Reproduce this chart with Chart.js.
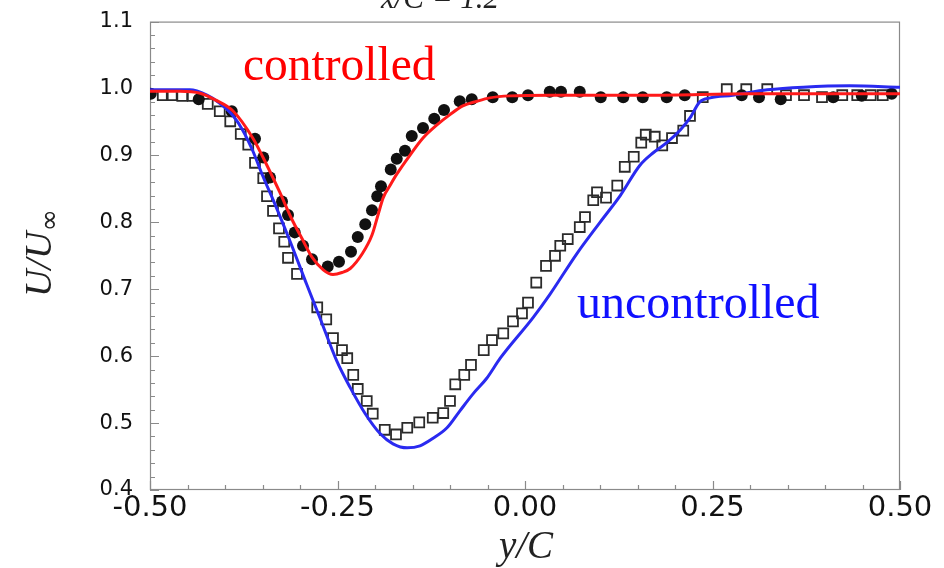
<!DOCTYPE html>
<html><head><meta charset="utf-8">
<script src="https://cdn.jsdelivr.net/npm/chart.js@4.4.1/dist/chart.umd.min.js"></script>
<style>html,body{margin:0;padding:0;background:#fff}</style>
</head><body>
<canvas id="c" width="944" height="568" style="width:944px;height:568px;display:block"></canvas>
<script>
// ---- data ----
const xTicks = [-0.50, -0.25, 0.00, 0.25, 0.50];
const yTicks = [0.4, 0.5, 0.6, 0.7, 0.8, 0.9, 1.0, 1.1];

const controlledExpX = [-0.499,-0.435,-0.391,-0.360,-0.349,-0.340,-0.324,-0.316,-0.307,-0.296,-0.284,-0.263,-0.248,-0.232,-0.223,-0.213,-0.204,-0.197,-0.192,-0.179,-0.171,-0.160,-0.151,-0.136,-0.121,-0.108,-0.087,-0.071,-0.043,-0.017,0.004,0.033,0.048,0.073,0.101,0.131,0.157,0.189,0.213,0.289,0.312,0.341,0.411,0.449,0.489];
const controlledExpY = [0.992,0.984,0.966,0.925,0.897,0.867,0.831,0.811,0.785,0.765,0.745,0.734,0.741,0.756,0.778,0.797,0.818,0.839,0.854,0.879,0.895,0.907,0.929,0.941,0.955,0.968,0.981,0.984,0.987,0.987,0.990,0.995,0.995,0.995,0.987,0.987,0.987,0.987,0.990,0.990,0.987,0.984,0.987,0.989,0.992];

const uncontrolledExpX = [-0.483,-0.471,-0.457,-0.443,-0.423,-0.407,-0.393,-0.379,-0.369,-0.360,-0.349,-0.344,-0.336,-0.328,-0.321,-0.316,-0.304,-0.277,-0.265,-0.256,-0.244,-0.237,-0.229,-0.223,-0.211,-0.203,-0.187,-0.172,-0.157,-0.141,-0.123,-0.109,-0.100,-0.093,-0.081,-0.072,-0.055,-0.044,-0.029,-0.016,-0.004,0.004,0.015,0.028,0.040,0.047,0.057,0.073,0.080,0.091,0.096,0.108,0.123,0.133,0.145,0.155,0.161,0.173,0.183,0.196,0.211,0.220,0.237,0.269,0.295,0.323,0.348,0.372,0.396,0.423,0.443,0.461,0.477];
const uncontrolledExpY = [0.990,0.990,0.989,0.989,0.977,0.966,0.951,0.932,0.916,0.889,0.866,0.839,0.817,0.791,0.771,0.747,0.723,0.673,0.655,0.627,0.609,0.597,0.572,0.551,0.533,0.514,0.490,0.483,0.493,0.501,0.508,0.515,0.533,0.558,0.572,0.587,0.609,0.624,0.634,0.652,0.664,0.680,0.710,0.735,0.750,0.765,0.775,0.793,0.808,0.833,0.845,0.837,0.855,0.883,0.898,0.919,0.931,0.928,0.915,0.926,0.937,0.959,0.987,0.999,0.999,0.999,0.990,0.990,0.987,0.990,0.990,0.990,0.990];

const controlledSimX = [-0.5,-0.46,-0.433,-0.413,-0.389,-0.363,-0.344,-0.327,-0.311,-0.297,-0.284,-0.269,-0.256,-0.244,-0.233,-0.217,-0.204,-0.196,-0.189,-0.18,-0.171,-0.153,-0.136,-0.117,-0.1,-0.083,-0.064,-0.047,-0.02,0.033,0.167,0.3,0.5];
const controlledSimY = [0.996,0.996,0.993,0.983,0.966,0.926,0.885,0.845,0.805,0.775,0.748,0.729,0.722,0.725,0.731,0.753,0.781,0.811,0.837,0.855,0.872,0.901,0.926,0.946,0.961,0.974,0.981,0.986,0.989,0.990,0.990,0.992,0.992];

const uncontrolledSimX = [-0.5,-0.447,-0.424,-0.407,-0.389,-0.376,-0.363,-0.351,-0.333,-0.313,-0.291,-0.273,-0.251,-0.233,-0.213,-0.193,-0.176,-0.157,-0.14,-0.123,-0.104,-0.087,-0.069,-0.051,-0.033,0.011,0.033,0.069,0.1,0.127,0.153,0.171,0.189,0.207,0.22,0.233,0.247,0.277,0.323,0.371,0.433,0.5];
const uncontrolledSimY = [0.998,0.998,0.990,0.978,0.959,0.937,0.907,0.873,0.826,0.771,0.707,0.656,0.593,0.553,0.514,0.484,0.469,0.463,0.466,0.477,0.493,0.518,0.544,0.567,0.597,0.658,0.692,0.753,0.800,0.840,0.885,0.904,0.919,0.938,0.956,0.980,0.986,0.990,0.998,1.002,1.004,1.002];

const zip = (xs, ys) => xs.map((x, i) => ({x, y: ys[i]}));

const TICK_FONT = '"DejaVu Sans", sans-serif';

const isMajor = (v, step) => Math.abs(v / step - Math.round(v / step)) < 1e-6;

const framePlugin = {
  id: 'frame',
  beforeDatasetsDraw(chart) {
    const {ctx, chartArea: a, scales} = chart;
    ctx.save();
    ctx.strokeStyle = '#8a8a8a';
    ctx.lineWidth = 1.2;
    ctx.strokeRect(a.left + 0.5, a.top + 0.5, a.right - a.left - 1, a.bottom - a.top - 1);
    ctx.beginPath();
    scales.x.ticks.forEach(t => {
      const px = Math.round(scales.x.getPixelForValue(t.value)) + 0.5;
      const len = isMajor(t.value, 0.25) ? 9 : 5;
      ctx.moveTo(px, a.bottom); ctx.lineTo(px, a.bottom - len);
    });
    scales.y.ticks.forEach(t => {
      const py = Math.round(scales.y.getPixelForValue(t.value)) + 0.5;
      const len = isMajor(t.value, 0.1) ? 9 : 5;
      ctx.moveTo(a.left, py); ctx.lineTo(a.left + len, py);
    });
    ctx.stroke();
    ctx.restore();
  },
  afterDraw(chart) {
    const {ctx} = chart;
    ctx.save();
    // annotations
    ctx.textBaseline = 'alphabetic';
    ctx.font = '47.5px "Liberation Serif", "Times New Roman", serif';
    ctx.fillStyle = '#ff0000';
    ctx.textAlign = 'left';
    ctx.fillText('controlled', 243, 80);
    ctx.font = '48px "Liberation Serif", "Times New Roman", serif';
    ctx.fillStyle = '#1010ff';
    ctx.fillText('uncontrolled', 577, 318);

    // x axis title: y/C
    ctx.fillStyle = '#222';
    ctx.font = 'italic 39px "Liberation Serif", serif';
    ctx.textAlign = 'center';
    ctx.fillText('y/C', 526, 558);

    // y axis title: U/U∞ rotated
    ctx.translate(51, 253);
    ctx.rotate(-Math.PI / 2);
    ctx.font = 'italic 38px "Liberation Serif", serif';
    const main = 'U/U';
    const wMain = ctx.measureText(main).width;
    ctx.font = '27px "DejaVu Sans", sans-serif';
    const wSub = ctx.measureText('\u221E').width;
    const total = wMain + wSub;
    ctx.textAlign = 'left';
    ctx.font = 'italic 38px "Liberation Serif", serif';
    ctx.fillText(main, -total / 2, 0);
    ctx.font = '27px "DejaVu Sans", sans-serif';
    ctx.fillText('\u221E', -total / 2 + wMain, 7);
    ctx.setTransform(1, 0, 0, 1, 0, 0);

    // title, mostly cut off by the top edge
    ctx.font = 'italic 31px "Liberation Serif", serif';
    ctx.textAlign = 'center';
    ctx.fillStyle = '#222';
    ctx.fillText('x/C = 1.2', 440, 8);
    ctx.restore();
  }
};

new Chart(document.getElementById('c'), {
  type: 'scatter',
  data: {
    datasets: [
      { label: 'controlled (sim)', type: 'line', data: zip(controlledSimX, controlledSimY),
        borderColor: '#ff1a1a', borderWidth: 3, pointRadius: 0, fill: false,
        cubicInterpolationMode: 'monotone', order: 0 },
      { label: 'uncontrolled (sim)', type: 'line', data: zip(uncontrolledSimX, uncontrolledSimY),
        borderColor: '#2a2af0', borderWidth: 3, pointRadius: 0, fill: false,
        cubicInterpolationMode: 'monotone', order: 0 },
      { label: 'uncontrolled (exp)', data: zip(uncontrolledExpX, uncontrolledExpY),
        pointStyle: 'rect', pointRadius: 7, borderColor: '#2b2b2b', borderWidth: 1.8,
        backgroundColor: 'rgba(255,255,255,0)', order: 2 },
      { label: 'controlled (exp)', data: zip(controlledExpX, controlledExpY),
        pointStyle: 'circle', pointRadius: 6, borderColor: '#111', borderWidth: 0,
        backgroundColor: '#111', order: 1 }
    ]
  },
  options: {
    responsive: false,
    animation: false,
    devicePixelRatio: 1,
    layout: { padding: { left: 0, right: 44, top: 18, bottom: 0 } },
    plugins: { legend: { display: false }, tooltip: { enabled: false }, title: { display: false } },
    scales: {
      x: {
        type: 'linear', min: -0.5, max: 0.5,
        grid: { display: false }, border: { display: false },
        ticks: {
          stepSize: 0.05, autoSkip: false, maxRotation: 0, padding: -7,
          color: '#111', font: { family: TICK_FONT, size: 29 },
          callback: v => isMajor(v, 0.25) ? (v < 0 ? '-' : '') + Math.abs(v).toFixed(2) : ''
        },
        afterFit: s => { s.height = 78; }
      },
      y: {
        type: 'linear', min: 0.4, max: 1.1,
        grid: { display: false }, border: { display: false },
        ticks: {
          stepSize: 0.02, autoSkip: false, maxTicksLimit: 100, padding: 9,
          color: '#111', font: { family: TICK_FONT, size: 21 },
          callback: v => isMajor(v, 0.1) ? v.toFixed(1) : ''
        },
        afterFit: s => { s.width = 150; }
      }
    }
  },
  plugins: [framePlugin]
});
</script>
</body></html>
